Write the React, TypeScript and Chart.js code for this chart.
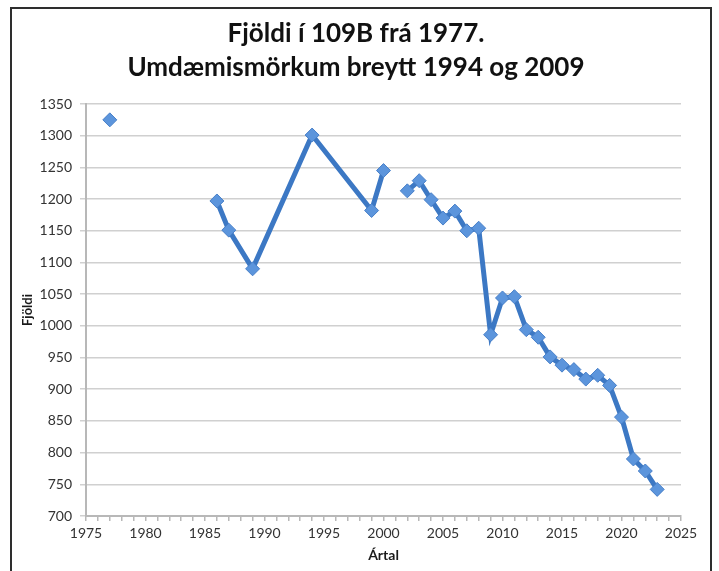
import React, { useEffect, useRef } from "react";
import { Chart, registerables } from "chart.js";

Chart.register(...registerables);

const titleLines = ["Fjöldi í 109B frá 1977.", "Umdæmismörkum breytt 1994 og 2009"];
const xTitle = "Ártal";
const yTitle = "Fjöldi";

// null entries break the line (no data reported for that year)
const years = [
  1977, 1978, 1986, 1987, 1989, 1994, 1999, 2000, 2001, 2002, 2003, 2004, 2005, 2006, 2007,
  2008, 2009, 2010, 2011, 2012, 2013, 2014, 2015, 2016, 2017, 2018, 2019, 2020, 2021, 2022, 2023,
];
const counts: (number | null)[] = [
  1325, null, 1197, 1151, 1090, 1301, 1182, 1245, null, 1213, 1229, 1199, 1170, 1181, 1150,
  1154, 986, 1044, 1046, 994, 982, 951, 938, 931, 916, 922, 906, 856, 790, 771, 742,
];

const xMin = 1975;
const xMax = 2025;
const xMajorStep = 5;
const yMin = 700;
const yMax = 1350;
const yStep = 50;

const FONT = "Lato, 'Open Sans', sans-serif";

const titlePlugin = {
  id: "twoLineTitle",
  afterDraw(chart: any) {
    const ctx = chart.ctx;
    ctx.save();
    ctx.fillStyle = "#111111";
    ctx.font = `bold 26px ${FONT}`;
    ctx.textAlign = "center";
    ctx.textBaseline = "middle";
    const cx = 356;
    titleLines.forEach((t, i) => ctx.fillText(t, cx, 34 + i * 34));
    ctx.restore();
  },
};

export default function App() {
  const ref = useRef<HTMLCanvasElement | null>(null);

  useEffect(() => {
    if (!ref.current) return;
    const chart = new Chart(ref.current, {
      type: "line",
      data: {
        datasets: [
          {
            data: years.map((y, i) => ({ x: y, y: counts[i] as any })),
            borderColor: "#3c78c4",
            borderWidth: 5,
            pointStyle: "rectRot",
            pointRadius: 7,
            pointBackgroundColor: "#5c95dc",
            pointBorderColor: "#477fc8",
            pointBorderWidth: 1,
            spanGaps: false,
            tension: 0,
          },
        ],
      },
      options: {
        animation: false,
        responsive: false,
        devicePixelRatio: 1,
        layout: { padding: { left: 0, right: 38, top: 104, bottom: 0 } },
        plugins: {
          legend: { display: false },
          tooltip: { enabled: false },
          title: { display: false },
        },
        scales: {
          x: {
            type: "linear",
            min: xMin,
            max: xMax,
            afterFit: (s: any) => {
              s.height = 55;
            },
            ticks: {
              stepSize: 1,
              autoSkip: false,
              maxRotation: 0,
              padding: 4,
              color: "#333333",
              font: { family: FONT, size: 14 },
              callback: (v: any) => (Number(v) % xMajorStep === 0 ? String(v) : ""),
            },
            grid: {
              drawOnChartArea: false,
              drawTicks: true,
              tickLength: 5,
              color: "#b8b8b8",
              lineWidth: 1.5,
            },
            border: { color: "#b8b8b8", width: 2 },
            title: {
              display: true,
              text: xTitle,
              color: "#1a1a1a",
              font: { family: FONT, size: 14, weight: "bold", lineHeight: 1.2 },
              padding: { top: 0, bottom: 7 },
            },
          },
          y: {
            min: yMin,
            max: yMax,
            afterFit: (s: any) => {
              s.width = 86;
            },
            ticks: {
              stepSize: yStep,
              padding: 8,
              color: "#333333",
              font: { family: FONT, size: 14 },
              callback: (v: any) => String(v),
            },
            grid: {
              color: "#d0d0d0",
              lineWidth: 1.5,
              drawTicks: true,
              tickLength: 6,
            },
            border: { color: "#b8b8b8", width: 2 },
            title: {
              display: true,
              text: yTitle,
              color: "#1a1a1a",
              font: { family: FONT, size: 13, weight: "bold", lineHeight: 1.2 },
              padding: { top: 20, bottom: 0 },
            },
          },
        },
      },
      plugins: [titlePlugin],
    });
    return () => chart.destroy();
  }, []);

  return (
    <div
      style={{
        position: "fixed",
        left: 0,
        top: 0,
        width: 719,
        height: 571,
        background: "#ffffff",
        overflow: "hidden",
      }}
    >
      <canvas ref={ref} width={719} height={571} style={{ display: "block" }} />
      <div
        style={{
          position: "absolute",
          left: 10,
          top: 7,
          width: 702,
          height: 620,
          border: "2px solid #2e2e2e",
          boxSizing: "border-box",
          pointerEvents: "none",
        }}
      />
    </div>
  );
}
